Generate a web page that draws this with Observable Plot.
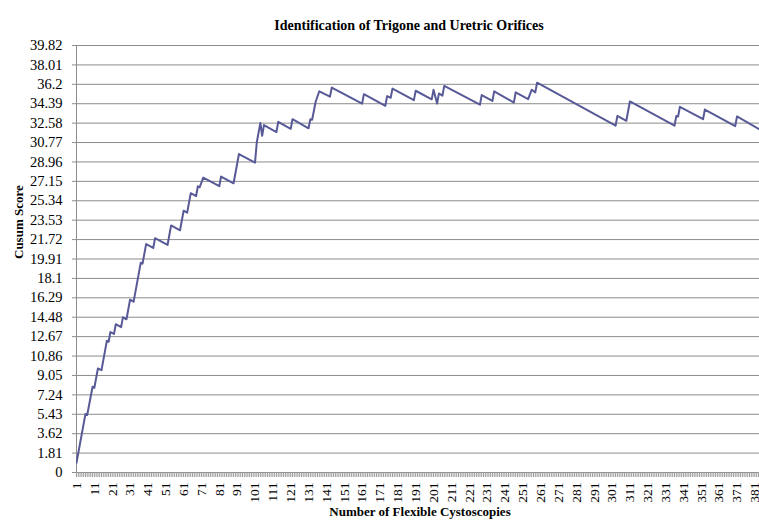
<!DOCTYPE html>
<html><head><meta charset="utf-8">
<script src="https://cdn.jsdelivr.net/npm/d3@7"></script>
<script src="https://cdn.jsdelivr.net/npm/@observablehq/plot@0.6"></script>
<style>
html,body{margin:0;padding:0;background:#fff;}
#chart svg{display:block;}
</style></head><body><div id="chart"></div>
<script>
const chartTitle = "Identification of Trigone and Uretric Orifices";
const xLabel = "Number of Flexible Cystoscopies";
const yLabel = "Cusum Score";

// vertices of the CUSUM line (case number, score)
const caseNumber = [1,6,7,10,11,13,15,18,19,20,22,23,26,27,29,31,33,37,38,40,44,45,52,54,59,61,63,65,68,69,70,72,81,82,89,92,101,102,104,105,106,113,114,121,122,131,132,133,135,137,143,144,161,162,174,175,177,178,190,191,200,201,203,204,206,207,227,228,234,235,246,247,254,256,258,259,303,304,309,311,336,337,338,339,352,353,370,371,384];
const cusumScore = [0.91,5.45,5.36,8.0,7.9,9.7,9.55,12.28,12.19,13.1,12.92,13.83,13.56,14.47,14.29,16.11,15.93,19.57,19.48,21.3,20.94,21.85,21.22,23.04,22.59,24.41,24.23,26.05,25.78,26.69,26.6,27.5,26.7,27.6,26.97,29.7,28.9,30.8,32.6,31.4,32.4,31.75,32.7,32.05,32.95,32.1,32.95,32.9,34.6,35.55,35.05,35.9,34.4,35.28,34.2,35.1,34.95,35.8,34.72,35.6,34.8,35.7,34.4,35.35,35.15,36.05,34.3,35.2,34.65,35.55,34.5,35.45,34.82,35.7,35.45,36.35,32.35,33.25,32.8,34.6,32.35,33.25,33.2,34.1,32.95,33.85,32.3,33.2,31.95];

const yTicks = [0,1.81,3.62,5.43,7.24,9.05,10.86,12.67,14.48,16.29,18.1,19.91,21.72,23.53,25.34,27.15,28.96,30.77,32.58,34.39,36.2,38.01,39.82];
const xTickLabels = [1,11,21,31,41,51,61,71,81,91,101,111,121,131,141,151,161,171,181,191,201,211,221,231,241,251,261,271,281,291,301,311,321,331,341,351,361,371,381];

const data = caseNumber.map((c, i) => ({c, v: cusumScore[i]}));
const minorTicks = d3.range(1, 385);

const chart = Plot.plot({
  width: 759, height: 523,
  marginTop: 45, marginBottom: 51, marginLeft: 76, marginRight: 0,
  style: {fontFamily: "'Liberation Serif', 'Times New Roman', serif", fontSize: "13.5px", color: "#000", background: "#fff"},
  x: {domain: [1, 383.6], label: null},
  y: {domain: [0, 39.82], label: null},
  marks: [
    Plot.ruleY(yTicks, {stroke: "#8c8c8c", strokeWidth: 1}),
    Plot.ruleX([1], {stroke: "#8c8c8c", strokeWidth: 1}),
    Plot.axisY(yTicks, {tickSize: 4, tickPadding: 10, stroke: "#8c8c8c", fill: "#000", fontSize: 14.5, tickFormat: d => `${d}`}),
    Plot.axisX(minorTicks, {tickSize: 5, stroke: "#9a9a9a", fill: "none", tickFormat: () => ""}),
    Plot.axisX(xTickLabels, {tickSize: 0, tickPadding: 10, tickRotate: -90, fill: "#000", fontSize: 13.5, tickFormat: d => `${d}`}),
    Plot.line(data, {x: "c", y: "v", stroke: "#585a97", strokeWidth: 2, clip: true}),
    Plot.text([chartTitle], {frameAnchor: "top", dy: -25, dx: -9, fontWeight: "bold", fontSize: 14, fill: "#000"}),
    Plot.text([xLabel], {frameAnchor: "bottom", dy: 43, dx: 2, fontWeight: "bold", fontSize: 13, fill: "#000"}),
    Plot.text([yLabel], {frameAnchor: "left", dx: -58, rotate: -90, fontWeight: "bold", fontSize: 13, fill: "#000"})
  ]
});
document.getElementById("chart").appendChild(chart);
</script>
</body></html>
